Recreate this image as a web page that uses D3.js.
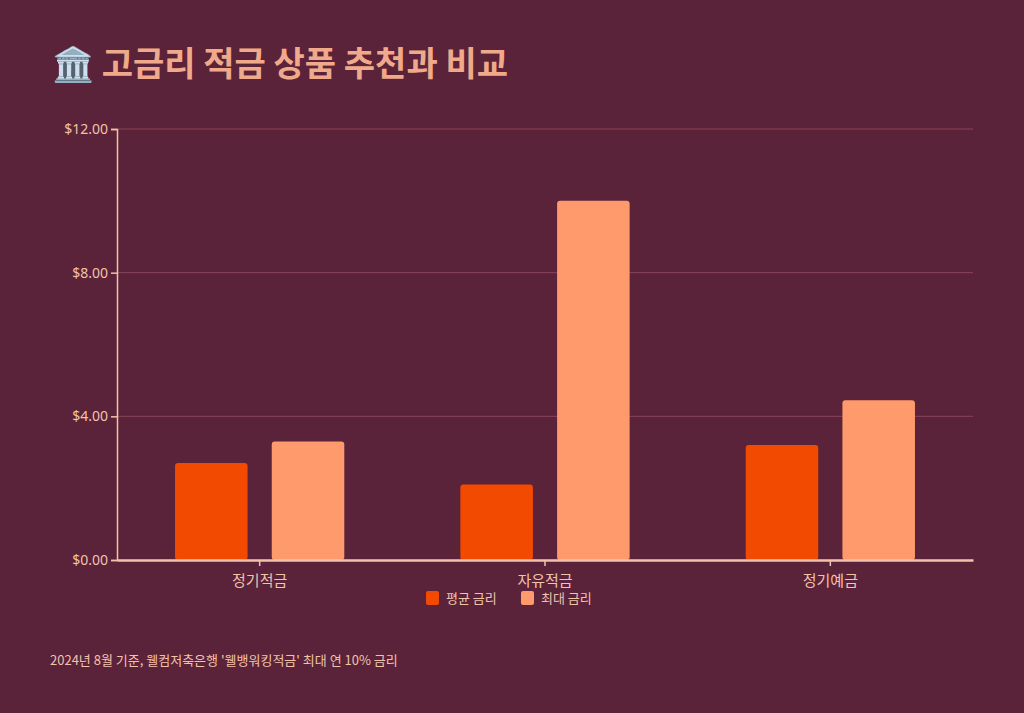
<!DOCTYPE html><html><head><meta charset="utf-8">
<script src="https://cdn.jsdelivr.net/npm/d3@7"></script>
<style>body{margin:0;background:#5b2339;font-family:"Noto Sans CJK KR","Noto Sans",sans-serif}</style></head><body>
<svg id="c" width="1024" height="713"></svg>
<script>
const categories=["정기적금","자유적금","정기예금"];
const seriesNames=["평균 금리","최대 금리"];
const avgRate=[2.7,2.1,3.2];
const maxRate=[3.3,10.0,4.45];
const yTicks=[0,4,8,12];
const colors=["#f24a00","#ff9a6c"];
const txt="#f2c2aa";
const svg=d3.select("#c");
svg.append("rect").attr("width",1024).attr("height",713).attr("fill","#5b2339");
svg.append("text").attr("x",52).attr("y",76).attr("font-size",34).attr("font-weight",700).attr("fill","#f0a98a").text("🏛️ 고금리 적금 상품 추천과 비교");
const x=d3.scaleBand().domain(categories).range([117,973]).paddingInner(0);
const x1=d3.scaleBand().domain([0,1]).range([0,x.bandwidth()]).paddingInner(0.25).paddingOuter(0.6);
const y=d3.scaleLinear().domain([0,12]).range([560,129]);
const g=svg.append("g");
yTicks.forEach(t=>{g.append("line").attr("x1",117).attr("x2",973).attr("y1",y(t)).attr("y2",y(t)).attr("stroke","#8a4458").attr("stroke-width",1);});
const ya=svg.append("g").attr("transform","translate(117,0)").call(d3.axisLeft(y).tickValues(yTicks).tickFormat(d=>"$"+d3.format(".2f")(d)).tickSize(6));
ya.selectAll("text").attr("fill",txt).attr("font-size",14).attr("font-family","Noto Sans");
ya.selectAll("line,path").attr("stroke",txt).attr("stroke-width",1.5);
const data=[avgRate,maxRate];
data.forEach((arr,si)=>{
 svg.selectAll(null).data(categories).enter().append("rect")
 .attr("x",d=>x(d)+x1(si)).attr("width",x1.bandwidth())
 .attr("y",(d,i)=>y(arr[i])).attr("height",(d,i)=>560-y(arr[i])).attr("rx",3).attr("fill",colors[si]);
});
const xa=svg.append("g").attr("transform","translate(0,560)").call(d3.axisBottom(x).tickSize(6).tickSizeOuter(0));
xa.selectAll("text").attr("fill",txt).attr("font-size",15).attr("dy","1.1em").attr("font-family","Noto Sans CJK KR");
xa.selectAll("line").attr("stroke",txt).attr("stroke-width",1.5);
xa.select("path").attr("stroke",txt).attr("stroke-width",2.5);
const lg=[[426,"평균 금리"],[521,"최대 금리"]];
lg.forEach((l,i)=>{svg.append("rect").attr("x",l[0]).attr("y",591).attr("width",13).attr("height",14).attr("rx",2).attr("fill",colors[i]);
svg.append("text").attr("x",l[0]+20).attr("y",603).attr("font-size",13).attr("fill",txt).text(seriesNames[i]);});
svg.append("text").attr("x",50).attr("y",665).attr("font-size",13).attr("fill",txt).text("2024년 8월 기준, 웰컴저축은행 '웰뱅워킹적금' 최대 연 10% 금리");
</script></body></html>
